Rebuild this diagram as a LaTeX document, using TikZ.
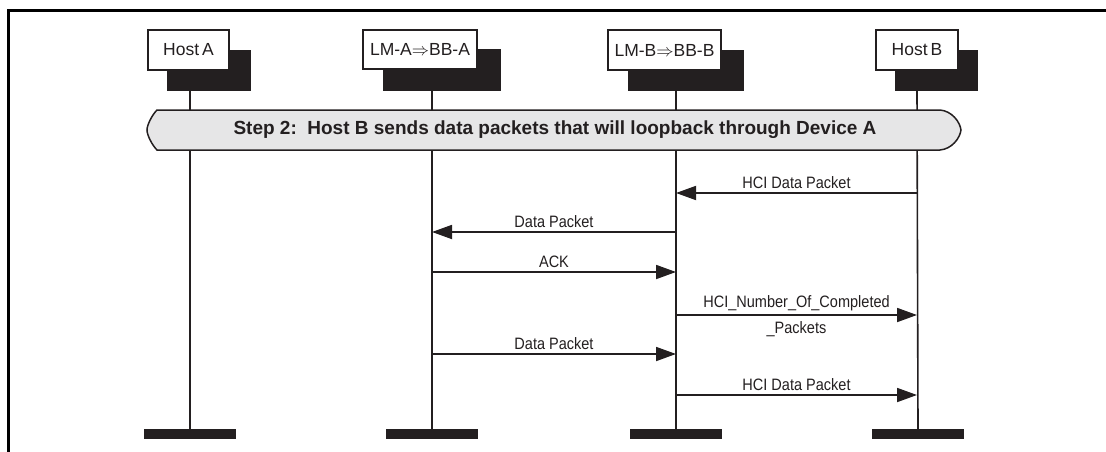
\documentclass[tikz,border=0pt]{standalone}
\usepackage{fontspec}
\setmainfont{Liberation Sans}
\newfontfamily\msgfont[FakeStretch=0.88]{Liberation Sans}
\usetikzlibrary{arrows.meta,calc}
\definecolor{ink}{HTML}{231F20}
\definecolor{bannerfill}{HTML}{E6E6E7}
\begin{document}
\begin{tikzpicture}[x=1pt,y=-1pt,
  every node/.style={inner sep=0pt,outer sep=0pt,text=ink},
  whitebox/.style={draw=ink,line width=1.4pt,fill=white,anchor=north west,font=\fontsize{17.5}{20}\selectfont},
  shadowbox/.style={fill=ink,anchor=north west},
  lifeline/.style={draw=ink,line width=1.6pt},
  endbar/.style={fill=ink,minimum width=92pt,minimum height=10pt},
  msg/.style={draw=ink,line width=1.8pt,-{Triangle[length=20pt,width=14pt]}},
  msglabel/.style={anchor=base,font=\msgfont\fontsize{16.5}{19}\selectfont},
  bannerstyle/.style={draw=ink,line width=1.5pt,fill=bannerfill},
  frame/.style={draw=black,line width=3pt}
]
\useasboundingbox (0,0) rectangle (1106,452);
% frame
\draw[frame] (1106,10.5) -- (8.5,10.5) -- (8.5,452);

% shadows
\node[shadowbox,minimum width=84pt,minimum height=41pt] (sA) at (167,50) {};
\node[shadowbox,minimum width=118pt,minimum height=42pt] (sLA) at (383,49) {};
\node[shadowbox,minimum width=116pt,minimum height=41pt] (sLB) at (628,50) {};
\node[shadowbox,minimum width=83pt,minimum height=41pt] (sB) at (895,50) {};
% boxes
\node[whitebox,minimum width=81pt,minimum height=40pt] (A) at (148,30) {Host\,A};
\node[whitebox,minimum width=114pt,minimum height=39pt] (LA) at (363,30) {LM-A$\Rightarrow$BB-A};
\node[whitebox,minimum width=113pt,minimum height=40pt] (LB) at (608,30) {LM-B$\Rightarrow$BB-B};
\node[whitebox,minimum width=82pt,minimum height=40pt] (B) at (876,30) {Host\,B};

% lifeline tops
\coordinate (tA) at (190,91);
\coordinate (tLA) at (432,91);
\coordinate (tLB) at (676,91);
\coordinate (tB) at (917,91);
% end bars
\node[endbar] (eA) at (190,434) {};
\node[endbar] (eLA) at (432,434) {};
\node[endbar] (eLB) at (676,434) {};
\node[endbar] (eB) at (918,434) {};

\draw[lifeline] (tA) -- (eA.north);
\draw[lifeline] (tLA) -- (eLA.north);
\draw[lifeline] (tLB) -- (eLB.north);
\draw[lifeline] (tB) -- (eB.north);

% banner
\draw[bannerstyle] (157,110) -- (940,110) .. controls (952,111) and (960,122) .. (961,130)
  .. controls (960,138) and (952,149) .. (940,150) -- (157,150)
  .. controls (152,145) and (147,135) .. (147,130)
  .. controls (147,125) and (152,115) .. (157,110) -- cycle;
\node[font=\bfseries\fontsize{19}{22}\selectfont] (banner) at (555,130) {Step 2:\ \ Host B sends data packets that will loopback through Device A};

% rows
\coordinate (r1) at (0,193);
\coordinate (r2) at (0,232);
\coordinate (r3) at (0,272);
\coordinate (r4) at (0,315);
\coordinate (r5) at (0,354);
\coordinate (r6) at (0,395);

\draw[msg] (tB |- r1) -- node[msglabel,above=4pt] {HCI Data Packet} (tLB |- r1);
\draw[msg] (tLB |- r2) -- node[msglabel,above=4pt] {Data Packet} (tLA |- r2);
\draw[msg] (tLA |- r3) -- node[msglabel,above=4pt] {ACK} (tLB |- r3);
\draw[msg] (tLB |- r4) -- node[msglabel,above=4pt] {HCI\_Number\_Of\_Completed}
  node[msglabel,below=7pt] {\_Packets} (tB |- r4);
\draw[msg] (tLA |- r5) -- node[msglabel,above=4pt] {Data Packet} (tLB |- r5);
\draw[msg] (tLB |- r6) -- node[msglabel,above=4pt] {HCI Data Packet} (tB |- r6);
\end{tikzpicture}
\end{document}
